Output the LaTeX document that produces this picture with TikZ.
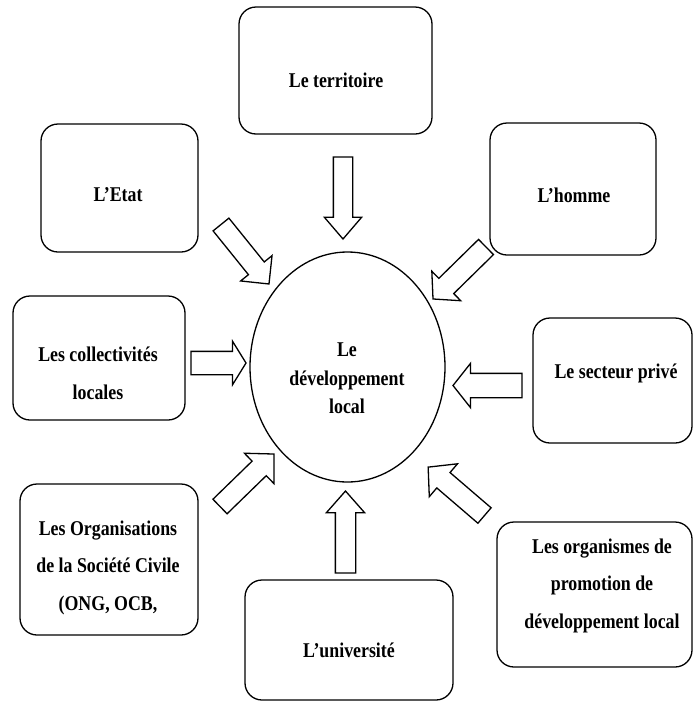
\documentclass[tikz,border=0pt]{standalone}
\usepackage{fontspec}
\setmainfont{Liberation Serif}[FakeStretch=0.85]
\usetikzlibrary{shapes.geometric,shapes.arrows}
\tikzset{
  box/.style={draw, rounded corners=17pt, line width=1.3pt, inner sep=0pt},
  lbl/.style={font=\bfseries\fontsize{21}{37.5}\selectfont, align=center, inner sep=0pt},
  clbl/.style={font=\bfseries\fontsize{21}{28.5}\selectfont, align=center, inner sep=0pt},
  barrow/.style={single arrow, draw, line width=1.3pt, single arrow head indent=0pt,
    inner xsep=0pt, minimum width=0pt, outer sep=0pt},
}
\newcommand\barr[8]{%
  \pgfmathsetmacro\bang{atan2(-(#5-#3),#4-#2)}%
  \pgfmathsetmacro\blen{veclen(#4-#2,#5-#3)}%
  \pgfmathsetmacro\bsw{#6/2}%
  \pgfmathsetmacro\bext{(#7-#6)/2}%
  \pgfmathsetmacro\btip{2*atan((#7/2)/#8)}%
  \node[barrow, minimum height=\blen pt, inner ysep=\bsw pt,
    single arrow head extend=\bext pt, single arrow tip angle=\btip,
    rotate=\bang, anchor=tail] (#1) at (#2,#3) {};}
\begin{document}
\begin{tikzpicture}[x=1pt,y=-1pt]
\useasboundingbox (0,0) rectangle (693,702);
% boxes
\node[box, minimum width=193pt, minimum height=127pt] (territoire) at (335.5,70.5) {};
\node[lbl] (tterritoire) at (336,80) {Le territoire};
\node[box, minimum width=157pt, minimum height=128pt] (etat) at (119.5,188) {};
\node[lbl] (tetat) at (118,195) {L’Etat};
\node[box, minimum width=166pt, minimum height=132pt] (homme) at (573,189) {};
\node[lbl] (thomme) at (574,195) {L’homme};
\node[box, minimum width=172pt, minimum height=124pt] (collect) at (99,358) {};
\node[lbl] (tcollect) at (98,373.5) {Les collectivités\\locales};
\node[box, minimum width=159pt, minimum height=125pt] (prive) at (612.5,380.5) {};
\node[lbl] (tprive) at (616,373) {Le secteur privé};
\node[box, minimum width=178pt, minimum height=151pt] (osc) at (109,559.5) {};
\node[lbl] (tosc) at (108,567.5) {Les Organisations\\de la Société Civile\\(ONG, OCB,};
\node[box, minimum width=208pt, minimum height=120pt] (univ) at (349,640) {};
\node[lbl] (tuniv) at (349,650) {L’université};
\node[box, minimum width=195pt, minimum height=145pt] (promo) at (594.5,594.5) {};
\node[lbl] (tpromo) at (602,585.5) {Les organismes de\\promotion de\\développement local};
% centre
\node[ellipse, draw, line width=1.3pt, minimum width=195pt, minimum height=230pt, inner sep=0pt] (dev) at (347.5,367) {};
\node[clbl] (tdev) at (347,378.5) {Le\\développement\\local};
% block arrows
\barr{a1}{343}{157}{343}{239}{18}{36}{21}
\barr{a2}{221}{224.5}{269}{284}{19}{39}{19.5}
\barr{a3}{486}{247}{433}{299}{20}{40}{18}
\barr{a4}{191}{363}{246}{363}{22}{42}{13}
\barr{a5}{522}{385.5}{453}{385.5}{23}{43}{17}
\barr{a6}{220}{506.5}{274}{454}{19}{41}{20}
\barr{a7}{345.5}{573}{345.5}{491}{19}{37}{21}
\barr{a8}{484.5}{515.5}{428}{467}{19}{42}{19.5}
\end{tikzpicture}
\end{document}
